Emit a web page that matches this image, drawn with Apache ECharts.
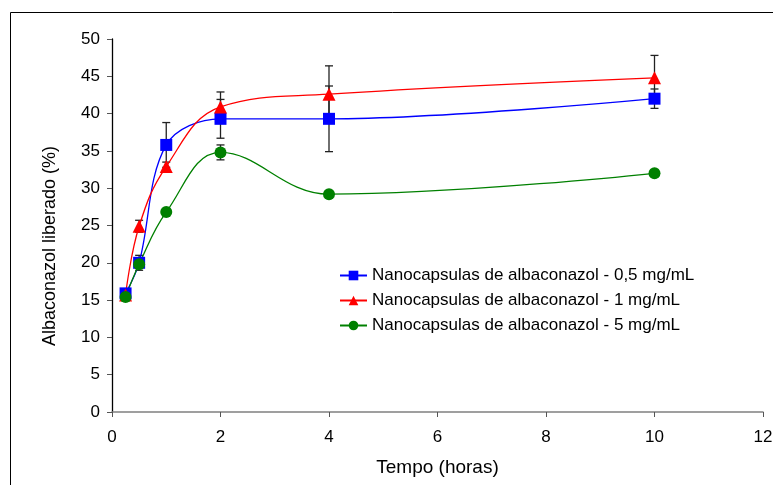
<!DOCTYPE html>
<html>
<head>
<meta charset="utf-8">
<script src="https://cdn.jsdelivr.net/npm/echarts@6/dist/echarts.min.js"></script>
<style>
  html, body { margin: 0; padding: 0; background: #fff; }
  #main { width: 773px; height: 485px; }
</style>
</head>
<body>
<div id="main"></div>
<script>
var times = [0.25, 0.5, 1, 2, 4, 10];
var names = [
  'Nanocapsulas de albaconazol - 0,5 mg/mL',
  'Nanocapsulas de albaconazol - 1 mg/mL',
  'Nanocapsulas de albaconazol - 5 mg/mL'
];
var dose05 = [15.9, 20.0, 35.8, 39.3, 39.3, 42.0];
var dose1 = [15.7, 24.9, 32.9, 40.9, 42.6, 44.8];
var dose5 = [15.4, 19.8, 26.8, 34.8, 29.2, 32.0];
var err05 = [0, 1.0, 3.0, 2.6, 4.4, 1.3];
var err1 = [0, 0.8, 0.6, 2.0, 3.8, 3.0];
var err5 = [0, 0, 0, 1.0, 0, 0];
var xTicks = [0, 2, 4, 6, 8, 10, 12];

var chartDom = document.getElementById('main');
var myChart = echarts.init(chartDom);

function pairs(vals) {
  return times.map(function (t, i) { return [t, vals[i]]; });
}

function errData(vals, errs) {
  var out = [];
  times.forEach(function (t, i) {
    if (errs[i] > 0) out.push([t, vals[i] - errs[i], vals[i] + errs[i]]);
  });
  return out;
}

function renderErr(params, api) {
  var lo = api.coord([api.value(0), api.value(1)]);
  var hi = api.coord([api.value(0), api.value(2)]);
  var w = 4;
  var st = { stroke: '#222', lineWidth: 1.3 };
  return {
    type: 'group',
    children: [
      { type: 'line', shape: { x1: lo[0], y1: lo[1], x2: hi[0], y2: hi[1] }, style: st },
      { type: 'line', shape: { x1: lo[0] - w, y1: lo[1], x2: lo[0] + w, y2: lo[1] }, style: st },
      { type: 'line', shape: { x1: hi[0] - w, y1: hi[1], x2: hi[0] + w, y2: hi[1] }, style: st }
    ]
  };
}

var font = 'Liberation Sans, Arial, sans-serif';

var option = {
  animation: false,
  textStyle: { fontFamily: font },
  graphic: [
    {
      type: 'rect',
      shape: { x: 10.5, y: 12.5, width: 800, height: 500 },
      style: { fill: 'none', stroke: '#000', lineWidth: 1 },
      silent: true
    },
    {
      type: 'text',
      x: 50,
      y: 246,
      rotation: Math.PI / 2,
      style: {
        text: 'Albaconazol liberado (%)',
        fontSize: 18,
        fontFamily: font,
        fill: '#000',
        align: 'center',
        verticalAlign: 'middle'
      },
      silent: true
    }
  ],
  grid: { left: 112, right: 10, top: 39, bottom: 73, outerBoundsMode: 'none' },
  legend: {
    orient: 'vertical',
    left: 334,
    top: 262,
    itemGap: 8,
    itemWidth: 27,
    itemHeight: 12,
    textStyle: { fontSize: 17, color: '#000', fontFamily: font },
    data: names
  },
  xAxis: {
    type: 'value',
    min: 0,
    max: 12,
    interval: 2,
    name: 'Tempo (horas)',
    nameLocation: 'middle',
    nameGap: 46,
    nameTextStyle: { fontSize: 19, color: '#000', fontFamily: font },
    axisLine: { lineStyle: { color: '#808080', width: 1.5 } },
    axisTick: { show: true, inside: false, length: 5, lineStyle: { color: '#555' } },
    axisLabel: {
      fontSize: 17, color: '#000', margin: 17,
      formatter: function (v) { return xTicks.indexOf(v) >= 0 ? String(v) : ''; }
    },
    splitLine: { show: false }
  },
  yAxis: {
    type: 'value',
    min: 0,
    max: 50,
    interval: 5,
    axisLine: { show: true, lineStyle: { color: '#000', width: 1.3 } },
    axisTick: { show: true, inside: false, length: 5, lineStyle: { color: '#555' } },
    axisLabel: { fontSize: 17, color: '#000', margin: 12 },
    splitLine: { show: false }
  },
  series: [
    {
      name: 'err05', type: 'custom', renderItem: renderErr, z: 1,
      encode: { x: 0, y: [1, 2] }, data: errData(dose05, err05), silent: true
    },
    {
      name: 'err1', type: 'custom', renderItem: renderErr, z: 1,
      encode: { x: 0, y: [1, 2] }, data: errData(dose1, err1), silent: true
    },
    {
      name: 'err5', type: 'custom', renderItem: renderErr, z: 1,
      encode: { x: 0, y: [1, 2] }, data: errData(dose5, err5), silent: true
    },
    {
      name: names[0], type: 'line', smooth: 0.35, z: 3,
      symbol: 'rect', symbolSize: 12,
      itemStyle: { color: '#0000ff' },
      lineStyle: { color: '#0000ff', width: 1.3 },
      data: pairs(dose05)
    },
    {
      name: names[1], type: 'line', smooth: 0.4, z: 3,
      symbol: 'triangle', symbolSize: 13,
      itemStyle: { color: '#ff0000' },
      lineStyle: { color: '#ff0000', width: 1.3 },
      data: pairs(dose1)
    },
    {
      name: names[2], type: 'line', smooth: 0.4, z: 3,
      symbol: 'circle', symbolSize: 12,
      itemStyle: { color: '#008000' },
      lineStyle: { color: '#008000', width: 1.3 },
      data: pairs(dose5)
    }
  ]
};

option && myChart.setOption(option);
window.onresize = function () {
  myChart.resize();
};
</script>
</body>
</html>
